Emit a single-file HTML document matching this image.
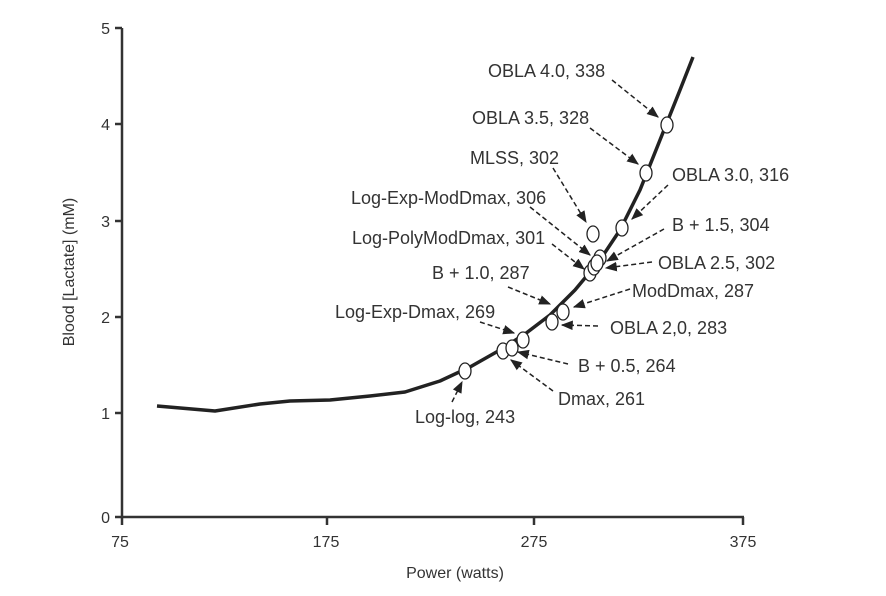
<!DOCTYPE html>
<html><head><style>body{margin:0;background:#fff}svg{display:block}text{font-family:"Liberation Sans",sans-serif;font-size:16px;fill:#333}.l{font-size:18px}</style></head><body>
<svg width="886" height="596" viewBox="0 0 886 596">
<defs><marker id="a" viewBox="0 0 10 10" refX="9" refY="5" markerWidth="8" markerHeight="8" orient="auto"><path d="M0,1 L10,5 L0,9 z" fill="#222"/></marker></defs>
<g stroke="#333" stroke-width="2.5" fill="none">
<path d="M122,28 L122,517 L744,517"/>
<path d="M115,28H122M115,124H122M115,221H122M115,317H122M115,413H122M115,517H122"/>
<path d="M122,517V525M327,517V525M534,517V525M743,517V525"/>
</g>
<g text-anchor="end"><text x="110" y="34">5</text><text x="110" y="130">4</text><text x="110" y="227">3</text><text x="110" y="323">2</text><text x="110" y="419">1</text><text x="110" y="523">0</text></g>
<g text-anchor="middle"><text x="120" y="547">75</text><text x="326" y="547">175</text><text x="534" y="547">275</text><text x="743" y="547">375</text>
<text x="455" y="578">Power (watts)</text>
<text transform="translate(74,272) rotate(-90)">Blood [Lactate] (mM)</text></g>
<path d="M157,406 L215,411 L260,404 L290,401 L330,400 L370,396 L405,392 L440,381 L470,367 L500,350 L525,334 L550,315 L575,290 L600,260 L620,230 L640,190 L660,140 L680,90 L693,57" stroke="#222" stroke-width="3.5" fill="none" stroke-linejoin="round"/>
<g fill="#fff" stroke="#222" stroke-width="1.3">
<ellipse cx="465" cy="371" rx="6" ry="8"/><ellipse cx="503" cy="351" rx="6" ry="8"/><ellipse cx="512" cy="348" rx="6" ry="8"/><ellipse cx="523" cy="340" rx="6" ry="8"/><ellipse cx="552" cy="322" rx="6" ry="8"/><ellipse cx="563" cy="312" rx="6" ry="8"/><ellipse cx="590" cy="273" rx="6" ry="8"/><ellipse cx="600" cy="258" rx="6" ry="8"/><ellipse cx="594" cy="267" rx="6" ry="8"/><ellipse cx="597" cy="263" rx="6" ry="8"/><ellipse cx="593" cy="234" rx="6" ry="8"/><ellipse cx="622" cy="228" rx="6" ry="8"/><ellipse cx="646" cy="173" rx="6" ry="8"/><ellipse cx="667" cy="125" rx="6" ry="8"/>
</g>
<g stroke="#222" stroke-width="1.5" stroke-dasharray="5,3" marker-end="url(#a)">
<line x1="612" y1="80" x2="658" y2="117"/><line x1="590" y1="128" x2="638" y2="164"/><line x1="553" y1="168" x2="586" y2="222"/><line x1="668" y1="185" x2="632" y2="219"/><line x1="530" y1="207" x2="590" y2="255"/><line x1="664" y1="229" x2="607" y2="261"/><line x1="552" y1="244" x2="584" y2="269"/><line x1="652" y1="262" x2="606" y2="268"/><line x1="508" y1="287" x2="550" y2="304"/><line x1="630" y1="289" x2="574" y2="307"/><line x1="480" y1="322" x2="514" y2="333"/><line x1="598" y1="326" x2="562" y2="325"/><line x1="568" y1="364" x2="518" y2="352"/><line x1="553" y1="391" x2="511" y2="360"/><line x1="452" y1="402" x2="462" y2="382"/>
</g>
<g>
<text class="l" x="488" y="77">OBLA 4.0, 338</text><text class="l" x="472" y="124">OBLA 3.5, 328</text><text class="l" x="470" y="164">MLSS, 302</text><text class="l" x="672" y="181">OBLA 3.0, 316</text><text class="l" x="351" y="204">Log-Exp-ModDmax, 306</text><text class="l" x="672" y="231">B + 1.5, 304</text><text class="l" x="352" y="244">Log-PolyModDmax, 301</text><text class="l" x="658" y="269">OBLA 2.5, 302</text><text class="l" x="432" y="279">B + 1.0, 287</text><text class="l" x="632" y="297">ModDmax, 287</text><text class="l" x="335" y="318">Log-Exp-Dmax, 269</text><text class="l" x="610" y="334">OBLA 2,0, 283</text><text class="l" x="578" y="372">B + 0.5, 264</text><text class="l" x="558" y="405">Dmax, 261</text><text class="l" x="415" y="423">Log-log, 243</text>
</g>
</svg></body></html>
